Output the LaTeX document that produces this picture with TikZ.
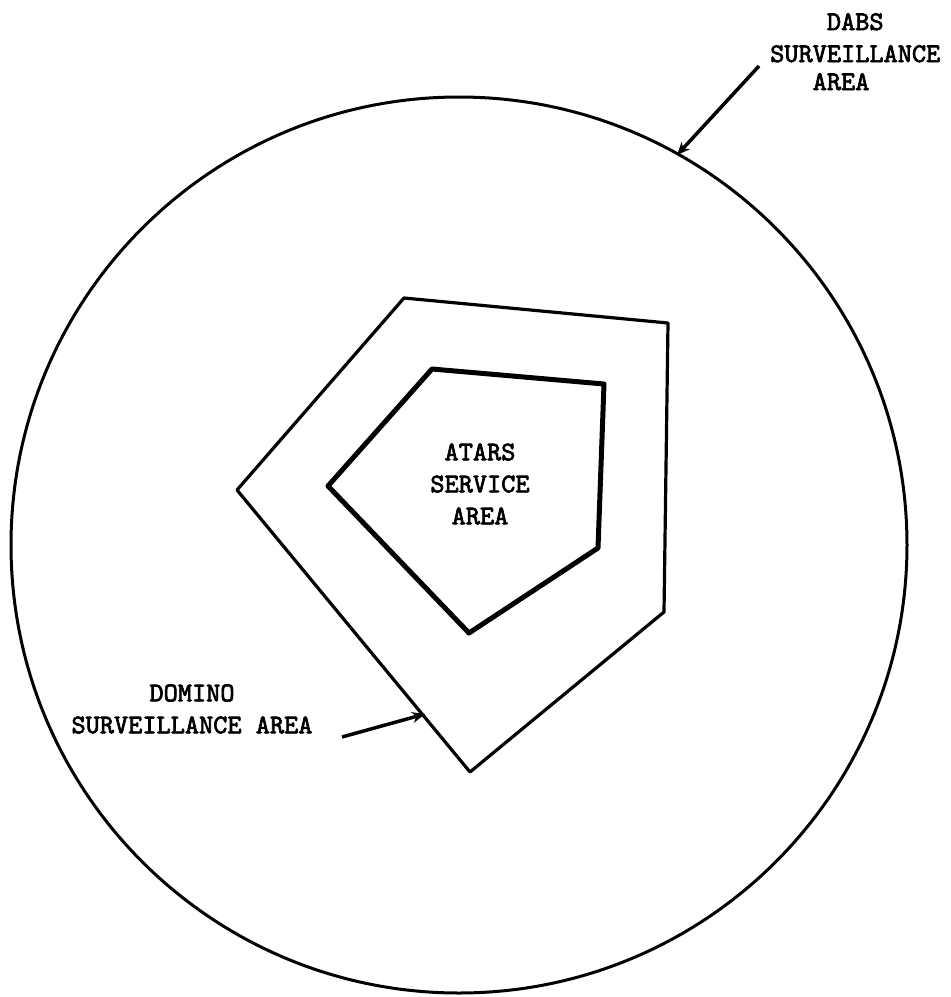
\documentclass[tikz,border=0pt]{standalone}
\usepackage{fontspec}
\newfontfamily\typer{lmmono10-regular}[Extension=.otf, FakeBold=2.6]
\usepackage{tikz}
\usetikzlibrary{arrows.meta}

\tikzset{
  tag/.style={align=center, inner sep=0pt,
    font=\fontsize{27}{32}\selectfont\typer},
  pointer/.style={-{Stealth[length=13pt,width=11pt]}, line width=3.5pt},
}

\begin{document}
\begin{tikzpicture}[x=1pt, y=-1pt, line join=round]
    \useasboundingbox (0,0) rectangle (951,997);

    % DABS surveillance area
    \coordinate (C) at (459,545);
    \draw[line width=3pt] (C) circle[radius=448pt];

    % DOMINO surveillance area
    \coordinate (D1) at (404,298);
    \coordinate (D2) at (668,323);
    \coordinate (D3) at (664,612);
    \coordinate (D4) at (470,772);
    \coordinate (D5) at (237,490);
    \draw[line width=3.2pt] (D1) -- (D2) -- (D3) -- (D4) -- (D5) -- cycle;

    % ATARS service area
    \coordinate (A1) at (432,369);
    \coordinate (A2) at (604,384);
    \coordinate (A3) at (598,548);
    \coordinate (A4) at (469,633);
    \coordinate (A5) at (328,486);
    \draw[line width=5pt] (A1) -- (A2) -- (A3) -- (A4) -- (A5) -- cycle;
    \node[tag] (atars) at (480,484) {ATARS\\SERVICE\\AREA};

    % Labels with pointers
    \node[tag, align=left, anchor=north west] (dabs) at (770,13)
      {\hphantom{SURV}DABS\\SURVEILLANCE\\[-4pt]\hphantom{SUR}AREA};
    \coordinate (dabsStart) at (759,66);
    \coordinate (dabsTip) at (677,155);
    \draw[pointer] (dabsStart) -- (dabsTip);

    \node[tag] (domino) at (192,709) {DOMINO\\SURVEILLANCE AREA};
    \coordinate (domStart) at (342,737);
    \coordinate (domTip) at (425,714);
    \draw[pointer] (domStart) -- (domTip);
\end{tikzpicture}
\end{document}
